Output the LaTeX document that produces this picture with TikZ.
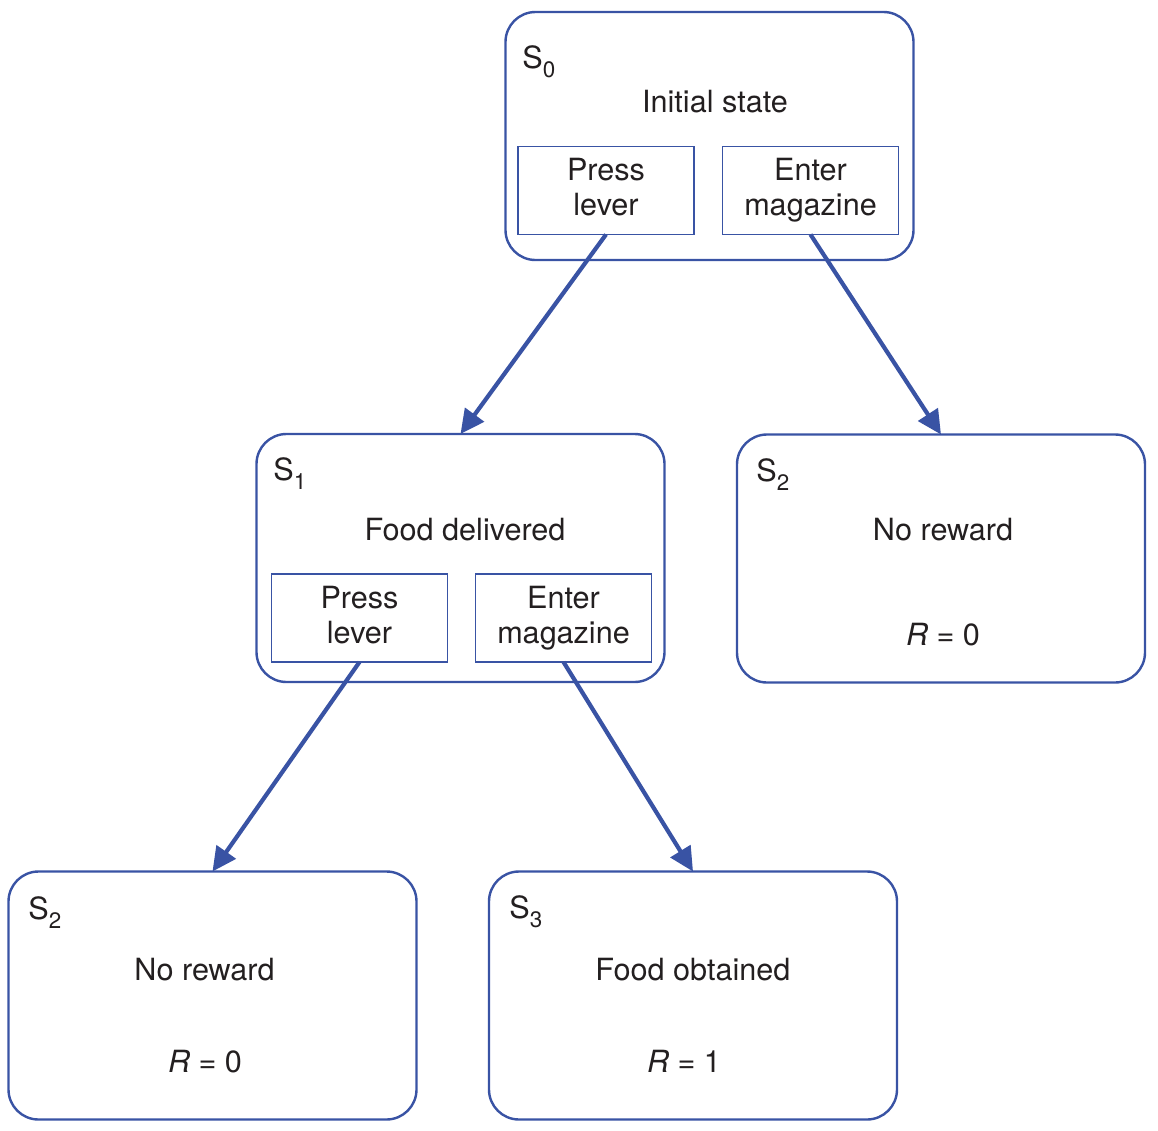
\documentclass[tikz,border=0pt]{standalone}
\usepackage{fontspec}
\setmainfont{TeX Gyre Heros}
\usetikzlibrary{arrows.meta}
\definecolor{boxblue}{RGB}{57,83,164}
\definecolor{inkc}{RGB}{35,31,32}
\newcommand\subidx[1]{\raisebox{-4.5pt}{\fontsize{11.2pt}{11.2pt}\selectfont #1}}
\begin{document}
\begin{tikzpicture}[x=0.5pt,y=-0.5pt,
  font=\fontsize{15.3pt}{17.5pt}\selectfont, text=inkc,
  statebox/.style={draw=boxblue, line width=1.2pt, rounded corners=15pt,
    minimum width=204pt, minimum height=124pt, inner sep=0pt, outer sep=0pt},
  actbox/.style={draw=boxblue, line width=0.75pt, minimum width=88pt,
    minimum height=44pt, inner sep=0pt, outer sep=0pt, align=center},
  lbl/.style={anchor=base west, inner sep=0pt},
  txt/.style={anchor=base, inner sep=0pt},
  trans/.style={draw=boxblue, line width=2.1pt,
    -{Triangle[length=12pt,width=11.5pt]}}]
\useasboundingbox (0,0) rectangle (1158,1131);

% state boxes
\node[statebox] (s0) at (709.5,136) {};
\node[statebox] (s1) at (460.5,558) {};
\node[statebox] (s2r) at (941,558.5) {};
\node[statebox] (s2b) at (212.5,995.5) {};
\node[statebox] (s3) at (693,995.5) {};

% action boxes
\node[actbox] (pl0) at (606,190.5) {Press\\lever\vphantom{g}};
\node[actbox] (em0) at (810.5,190.5) {Enter\\magazine};
\node[actbox] (pl1) at (359.5,618) {Press\\lever\vphantom{g}};
\node[actbox] (em1) at (563.5,618) {Enter\\magazine};

% labels and texts
\node[lbl] (l0) at (522,68) {S\subidx{0}};
\node[txt] (t0) at (715,112) {Initial state};

\node[lbl] (l1) at (273,480) {S\subidx{1}};
\node[txt] (t1) at (465,540) {Food delivered};

\node[lbl] (l2r) at (756,481) {S\subidx{2}};
\node[txt] (t2r) at (943,540) {No reward};
\node[txt] (r2r) at (943,645) {\textit{R} = 0};

\node[lbl] (l2b) at (28,919) {S\subidx{2}};
\node[txt] (t2b) at (204.5,980) {No reward};
\node[txt] (r2b) at (205,1072) {\textit{R} = 0};

\node[lbl] (l3) at (509,918) {S\subidx{3}};
\node[txt] (t3) at (693,980) {Food obtained};
\node[txt] (r3) at (684,1072) {\textit{R} = 1};

% transitions
\draw[trans] (pl0.south) -- (s1.north);
\draw[trans] (em0.south) -- (s2r.north);
\draw[trans] (pl1.south) -- (s2b.north);
\draw[trans] (em1.south) -- (s3.north);
\end{tikzpicture}
\end{document}
